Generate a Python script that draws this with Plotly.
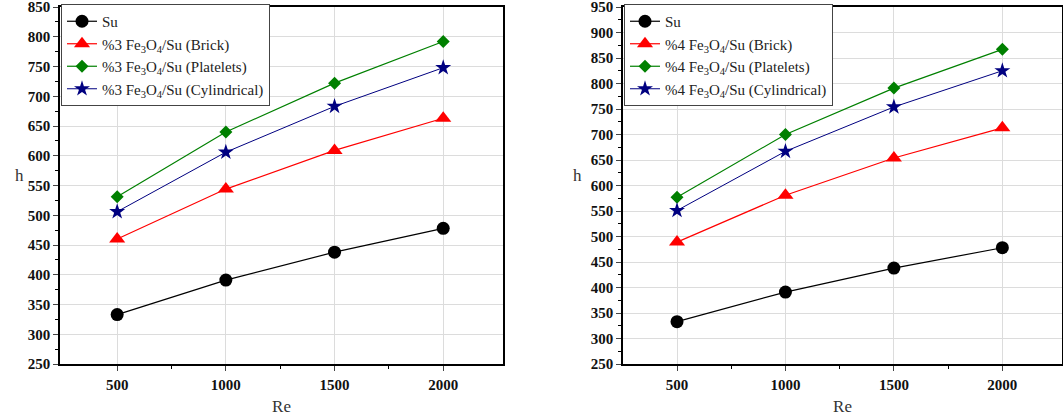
import plotly.graph_objects as go

W, H = 1063, 419

re_vals = [500, 1000, 1500, 2000]

# 3 % Fe3O4 panel
su_3 = [333, 391, 438, 478]
brick_3 = [460, 544, 609, 663]
platelets_3 = [531, 640, 722, 792]
cylindrical_3 = [506, 606, 683, 748]

# 4 % Fe3O4 panel
su_4 = [333, 391, 438, 478]
brick_4 = [489, 581, 654, 713]
platelets_4 = [577, 700, 791, 867]
cylindrical_4 = [551, 667, 754, 825]

series_styles = [
    dict(color="black", symbol="circle", size=13, lw=1.2),
    dict(color="red", symbol="triangle-up", size=14, lw=1.2),
    dict(color="green", symbol="diamond", size=10, lw=1.2),
    dict(color="navy", symbol="star", size=12, lw=1.0),
]

fe = "Fe<sub>3</sub>O<sub>4</sub>/Su"


def names(pct):
    return ["Su",
            f"%{pct} {fe} (Brick)",
            f"%{pct} {fe} (Platelets)",
            f"%{pct} {fe} (Cylindrical)"]


fig = go.Figure()

panels = [
    ("x", "y", "legend", [su_3, brick_3, platelets_3, cylindrical_3], names(3)),
    ("x2", "y2", "legend2", [su_4, brick_4, platelets_4, cylindrical_4], names(4)),
]

for xa, ya, lg, data, labels in panels:
    for vals, name, st in zip(data, labels, series_styles):
        fig.add_trace(go.Scatter(
            x=re_vals, y=vals, name=name, mode="lines+markers",
            xaxis=xa, yaxis=ya, legend=lg,
            line=dict(color=st["color"], width=st["lw"]),
            marker=dict(color=st["color"], symbol=st["symbol"], size=st["size"],
                        line=dict(width=0)),
        ))

serif = "'Liberation Serif', 'Times New Roman', Times, serif"
tickfont = dict(family=serif, size=15, color="#111", weight="bold")


def xaxis(dom, rng, anchor):
    return dict(
        domain=dom, range=rng, anchor=anchor,
        tickvals=re_vals, ticks="outside", ticklen=5, tickwidth=1.2,
        tickfont=tickfont, ticklabelstandoff=1,
        minor=dict(tickvals=[750, 1250, 1750], ticks="outside", ticklen=3,
                   showgrid=False, tickcolor="black"),
        showline=True, linecolor="black", linewidth=1.5, mirror=True,
        showgrid=True, gridcolor="#dcdcdc", gridwidth=1, zeroline=False,
        title=dict(text="Re", font=dict(family=serif, size=17, color="#333"),
                   standoff=8),
    )


def yaxis(rng, dtick, anchor):
    return dict(
        domain=[1 - 364 / H, 1 - 7 / H], range=rng, anchor=anchor,
        dtick=dtick, ticks="outside", ticklen=5, tickwidth=1.2,
        tickfont=tickfont, ticklabeloverflow="allow",
        minor=dict(dtick=dtick / 2, ticks="outside", ticklen=3,
                   showgrid=False, tickcolor="black"),
        showline=True, linecolor="black", linewidth=1.5, mirror=True,
        showgrid=True, gridcolor="#dcdcdc", gridwidth=1, zeroline=False,
        automargin=False,
    )


def legend(x0):
    return dict(
        x=x0, y=1 - 4 / H, xanchor="left", yanchor="top",
        bgcolor="white", bordercolor="#444", borderwidth=1,
        font=dict(family=serif, size=15, color="#222"),
        tracegroupgap=0, itemsizing="trace", itemwidth=30,
    )


fig.update_layout(
    width=W, height=H,
    margin=dict(l=0, r=0, t=0, b=0),
    paper_bgcolor="white", plot_bgcolor="white",
    xaxis=xaxis([60 / W, 503 / W], [237, 2275], "y"),
    yaxis=yaxis([250, 850], 50, "x"),
    xaxis2=xaxis([623 / W, 1062 / W], [251, 2275], "y2"),
    yaxis2=yaxis([250, 950], 50, "x2"),
    legend=legend(61 / W),
    legend2=legend(624 / W),
    showlegend=True,
)

# y-axis labels
for xpos in (13, 577):
    fig.add_annotation(
        x=xpos / W, y=1 - 175 / H, xref="paper", yref="paper",
        text="h", showarrow=False,
        font=dict(family=serif, size=17, color="#333"),
    )

fig.write_html("out.html")
